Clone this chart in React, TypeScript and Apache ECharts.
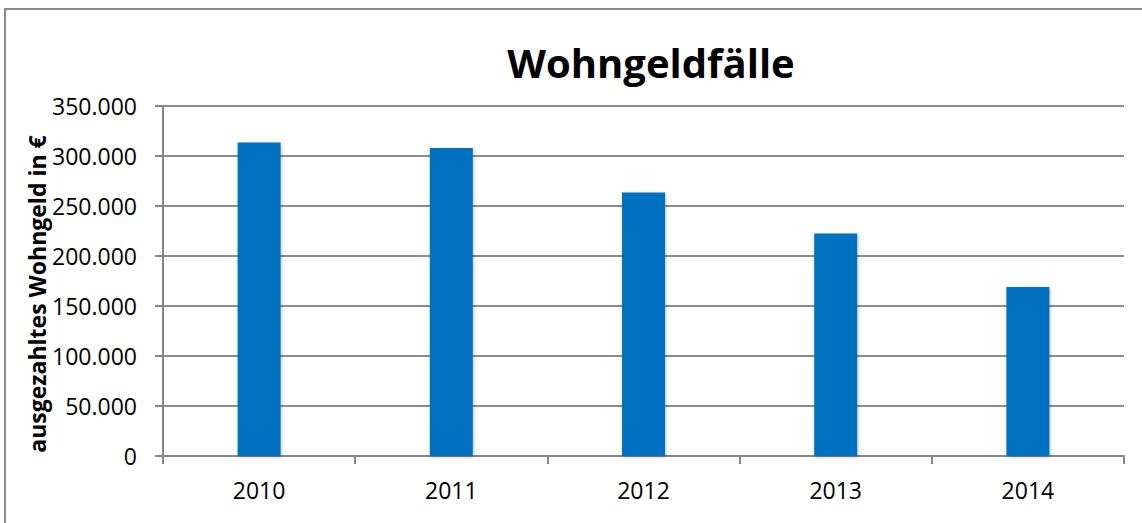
import React, { useEffect, useRef } from "react";
import * as echarts from "echarts";

const years = ["2010", "2011", "2012", "2013", "2014"];
const faelle = [313500, 308000, 263500, 222500, 169000];
const yTicks = { min: 0, max: 350000, interval: 50000 };
const titleText = "Wohngeldfälle";
const yName = "ausgezahltes Wohngeld in €";

const fmt = (v: number) => String(Math.round(v)).replace(/\B(?=(\d{3})+(?!\d))/g, ".");

export default function App() {
  const ref = useRef<HTMLDivElement>(null);
  useEffect(() => {
    document.body.style.margin = "0";
    const chart = echarts.init(ref.current!, null, { renderer: "svg" });
    const font = "'Open Sans', sans-serif";
    chart.setOption({
      animation: false,
      backgroundColor: "#ffffff",
      textStyle: { fontFamily: font },
      grid: { left: 163, right: 18, top: 106, bottom: 67, containLabel: false },
      graphic: [
        {
          type: "rect",
          shape: { x: 5, y: 9, width: 1160, height: 600 },
          style: { fill: "none", stroke: "#8a8a8a", lineWidth: 2 },
          silent: true,
        },
        {
          type: "text",
          x: 651,
          y: 62,
          style: {
            text: titleText,
            fontFamily: font,
            fontSize: 40,
            fontWeight: "bold",
            fill: "#000000",
            align: "center",
            verticalAlign: "middle",
          },
        },
        {
          type: "text",
          x: 37,
          y: 294,
          rotation: Math.PI / 2,
          style: {
            text: yName,
            fontFamily: font,
            fontSize: 23,
            fontWeight: "bold",
            fill: "#000000",
            align: "center",
            verticalAlign: "middle",
          },
        },
      ],
      xAxis: {
        type: "category",
        data: years,
        boundaryGap: true,
        axisLine: { show: true, lineStyle: { color: "#868686", width: 2 } },
        axisTick: { show: true, length: 8, inside: false, alignWithLabel: false, lineStyle: { color: "#868686", width: 2 } },
        axisLabel: { color: "#000000", fontSize: 23, fontFamily: font, margin: 22 },
        splitLine: { show: false },
      },
      yAxis: {
        type: "value",
        min: yTicks.min,
        max: yTicks.max,
        interval: yTicks.interval,
        axisLine: { show: true, lineStyle: { color: "#868686", width: 2 } },
        axisTick: { show: true, length: 8, lineStyle: { color: "#868686", width: 2 } },
        axisLabel: { color: "#000000", fontSize: 23, fontFamily: font, margin: 26, formatter: (v: number) => fmt(v) },
        splitLine: { show: true, lineStyle: { color: "#8c8c8c", width: 2 } },
      },
      series: [
        {
          type: "bar",
          data: faelle,
          barWidth: 43,
          itemStyle: {
            color: "#0070C0",
            shadowColor: "rgba(0,0,0,0.25)",
            shadowBlur: 3,
            shadowOffsetX: 1,
            shadowOffsetY: 1,
          },
        },
      ],
    });
    return () => chart.dispose();
  }, []);
  return <div ref={ref} style={{ position: "absolute", left: 0, top: 0, width: 1142, height: 523 }} />;
}
